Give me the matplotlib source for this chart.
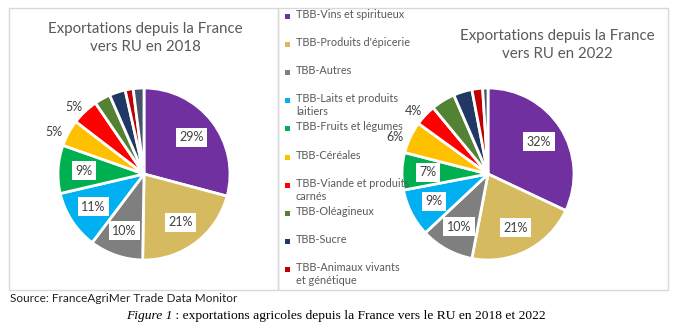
import numpy as np
import matplotlib
matplotlib.use("Agg")
import matplotlib.pyplot as plt
from matplotlib.patches import Rectangle

W, H = 675, 324

categories = ["TBB-Vins et spiritueux", "TBB-Produits d'épicerie", "TBB-Autres",
              "TBB-Laits et produits\nlaitiers", "TBB-Fruits et légumes", "TBB-Céréales",
              "TBB-Viande et produits\ncarnés", "TBB-Oléagineux", "TBB-Sucre",
              "TBB-Animaux vivants\net génétique", "Autres"]
colors = ["#7030A0", "#D5BA60", "#7F7F7F", "#00B0F0", "#00B050", "#FFC000",
          "#FF0000", "#548235", "#203864", "#C00000", "#44546A"]

share_2018 = [29, 21, 10, 11, 9, 5, 5, 3, 3, 1.5, 2]
share_2022 = [32, 21, 10, 9, 7, 6, 4, 4.5, 3.5, 2, 1]

titles = ["Exportations depuis la France\nvers RU en 2018",
          "Exportations depuis la France\nvers RU en 2022"]

FONT = "Lato"
GREY = "#595959"
N_LABELLED = 7

fig = plt.figure(figsize=(W / 100, H / 100), dpi=100)


def fx(px):
    return px / W


def fy(py):
    return 1 - py / H


# chart frames
for x0, x1 in [(9, 278), (278, 668)]:
    fig.add_artist(Rectangle((fx(x0), fy(290)), fx(x1 - x0), (290 - 8) / H,
                             transform=fig.transFigure, fill=False,
                             edgecolor="#D9D9D9", linewidth=1))


def draw_pie(cx, cy, r, values, title, tx, ty):
    lim = 1.45
    side = 2 * lim * r
    ax = fig.add_axes([fx(cx - side / 2), fy(cy + side / 2), fx(side), side / H])
    wedges, _ = ax.pie(values, colors=colors, startangle=90, counterclock=False,
                       radius=1, wedgeprops=dict(edgecolor="white", linewidth=2))
    ax.set_xlim(-lim, lim)
    ax.set_ylim(-lim, lim)
    ax.set_aspect("equal")
    ax.axis("off")
    total = sum(values)
    for i, (w, v) in enumerate(zip(wedges, values)):
        if i >= N_LABELLED:
            break
        pct = 100 * v / total
        ang = np.radians((w.theta1 + w.theta2) / 2)
        c, s = np.cos(ang), np.sin(ang)
        if pct >= 6.5:
            ax.text(0.7 * c, 0.7 * s, f"{v:.0f}%", ha="center", va="center",
                    fontsize=9, family=FONT, color="#404040",
                    bbox=dict(facecolor="white", edgecolor="none", pad=2.5))
        else:
            ax.text(1.19 * c, 1.19 * s - 0.08, f"{v:.0f}%", ha="center", va="center",
                    fontsize=9, family=FONT, color="#404040")
    fig.text(fx(tx), fy(ty), title, ha="center", va="center", fontsize=10.8,
             family=FONT, color=GREY, linespacing=1.3)


draw_pie(144, 174, 86, share_2018, titles[0], 145, 38)
draw_pie(488, 174, 86, share_2022, titles[1], 557, 45)

# legend
legend_y = [16, 44, 72, 100, 128, 157, 185, 213, 241, 269]
for lab, col, y in zip(categories[:10], colors[:10], legend_y):
    fig.add_artist(Rectangle((fx(284.5), fy(y + 3)), fx(5), 5 / H,
                             transform=fig.transFigure, facecolor=col, edgecolor="none"))
    fig.text(fx(296), fy(y - 7), lab, ha="left", va="top", fontsize=7.8,
             family=FONT, color=GREY, linespacing=1.2)

fig.text(fx(10), fy(298), "Source: FranceAgriMer Trade Data Monitor", ha="left",
         va="center", fontsize=8.5, family=FONT, color="#202020")
fig.text(fx(172), fy(316), "Figure 1", ha="right", va="center", fontsize=9.7,
         family="Liberation Serif", style="italic")
fig.text(fx(172), fy(316), " : exportations agricoles depuis la France vers le RU en 2018 et 2022",
         ha="left", va="center", fontsize=9.7, family="Liberation Serif")

fig.savefig("out.png", dpi=100)
